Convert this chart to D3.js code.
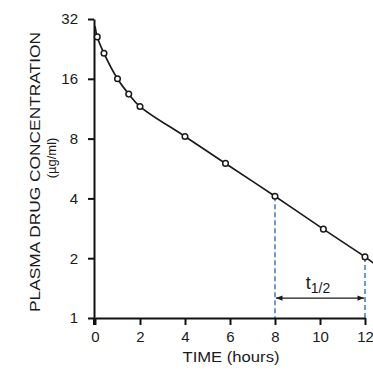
<!DOCTYPE html>
<html>
<head>
<meta charset="utf-8">
<script src="https://cdn.jsdelivr.net/npm/d3@7/dist/d3.min.js"></script>
<style>
html,body{margin:0;padding:0;background:#fff;}
svg{display:block;}
text{font-family:"Liberation Sans",Arial,Helvetica,sans-serif;fill:#1a1a1a;}
</style>
</head>
<body>
<svg id="chart" width="373" height="377"></svg>
<script>
// Data
const times = [0.1, 0.4, 1, 1.5, 2, 4, 5.8, 8, 10.15, 12];
const conc  = [26, 21.5, 16, 13.4, 11.6, 8.2, 6.0, 4.1, 2.8, 2.03];
// fitted curve extends slightly beyond the sampled points
const curveTimes = [0, 0.1, 0.4, 1, 1.5, 2, 4, 5.8, 8, 10.15, 12, 12.4];
const curveConc  = [29.5, 26, 21.5, 16, 13.4, 11.6, 8.2, 6.0, 4.1, 2.8, 2.03, 1.88];
const xTicks = [0, 2, 4, 6, 8, 10, 12];
const yTicks = [1, 2, 4, 8, 16, 32];
const halfLife = {start: 8, end: 12, level: 1.26, label: "t", sub: "1/2"};

const svg = d3.select("#chart");
const x = d3.scaleLinear().domain([0, 12]).range([95, 365]);
const y = d3.scaleLog().base(2).domain([1, 32]).range([318, 19]);

// dashed half-life markers
const dashColor = "#4a7fcc";
[halfLife.start, halfLife.end].forEach((t, i) => {
  const c = i === 0 ? conc[times.indexOf(8)] : conc[times.indexOf(12)];
  svg.append("line")
    .attr("x1", x(t)).attr("x2", x(t))
    .attr("y1", y(c)).attr("y2", y(1))
    .attr("stroke", dashColor).attr("stroke-width", 1.6)
    .attr("stroke-dasharray", "5,3");
});

// arrow
const defs = svg.append("defs");
defs.append("marker").attr("id", "ah").attr("viewBox", "0 0 10 10")
  .attr("refX", 10).attr("refY", 5).attr("markerWidth", 7).attr("markerHeight", 5)
  .attr("orient", "auto-start-reverse")
  .append("path").attr("d", "M0,1 L10,5 L0,9 Z").attr("fill", "#1a1a1a");
svg.append("line")
  .attr("x1", x(halfLife.start) + 1).attr("x2", x(halfLife.end) - 1)
  .attr("y1", y(halfLife.level)).attr("y2", y(halfLife.level))
  .attr("stroke", "#1a1a1a").attr("stroke-width", 1.3)
  .attr("marker-start", "url(#ah)").attr("marker-end", "url(#ah)");
const tl = svg.append("text")
  .attr("x", x((halfLife.start + halfLife.end) / 2) - 2)
  .attr("y", y(halfLife.level) - 9)
  .attr("text-anchor", "middle")
  .style("font-size", "18px");
tl.append("tspan").text(halfLife.label);
tl.append("tspan").attr("dy", 4).style("font-size", "14px").text(halfLife.sub);

// axes
const yAxis = svg.append("g").attr("transform", "translate(94,0)")
  .call(d3.axisLeft(y).tickValues(yTicks).tickFormat(d3.format("d")).tickSize(6).tickSizeOuter(0).tickPadding(10));
const xAxis = svg.append("g").attr("transform", "translate(0,318)")
  .call(d3.axisBottom(x).tickValues(xTicks).tickFormat(d3.format("d")).tickSize(7).tickSizeOuter(0).tickPadding(6));
[yAxis, xAxis].forEach(g => {
  g.select(".domain").attr("stroke", "#111").attr("stroke-width", 2);
  g.selectAll(".tick line").attr("stroke", "#111").attr("stroke-width", 2);
  g.selectAll(".tick text").style("font-size", "15px").style("font-family", "'Liberation Sans',Arial,sans-serif").attr("fill", "#1a1a1a");
});
// y axis extends below origin
svg.append("line").attr("x1", 94).attr("x2", 94).attr("y1", 318).attr("y2", 325)
  .attr("stroke", "#111").attr("stroke-width", 2);

// curve
const pts = curveTimes.map((t, i) => [t, curveConc[i]]);
svg.append("path").datum(pts)
  .attr("fill", "none").attr("stroke", "#1a1a1a").attr("stroke-width", 1.7)
  .attr("d", d3.line().x(d => x(d[0])).y(d => y(d[1])).curve(d3.curveCatmullRom.alpha(0.5)));

// points
svg.append("g").selectAll("circle").data(times.map((t, i) => [t, conc[i]]))
  .join("circle")
  .attr("cx", d => x(d[0])).attr("cy", d => y(d[1])).attr("r", 2.8)
  .attr("fill", "#fff").attr("stroke", "#1a1a1a").attr("stroke-width", 1.5);

// axis titles
svg.append("text").attr("transform", "translate(40,172) rotate(-90)")
  .attr("text-anchor", "middle").style("font-size", "14px")
  .attr("textLength", 280).attr("lengthAdjust", "spacingAndGlyphs")
  .text("PLASMA DRUG CONCENTRATION");
svg.append("text").attr("transform", "translate(56,158) rotate(-90)")
  .attr("text-anchor", "middle").style("font-size", "13px")
  .text("(µg/ml)");
svg.append("text").attr("x", 231).attr("y", 362)
  .attr("text-anchor", "middle").style("font-size", "14px")
  .attr("textLength", 97).attr("lengthAdjust", "spacingAndGlyphs")
  .text("TIME (hours)");
</script>
</body>
</html>
